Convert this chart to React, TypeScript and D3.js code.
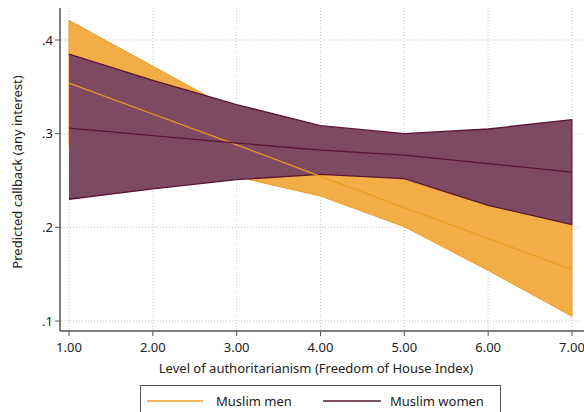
import React from "react";
import * as d3 from "d3";

const xValues = [1, 2, 3, 4, 5, 6, 7];
const menMean = [0.354, 0.321, 0.288, 0.2545, 0.221, 0.188, 0.155];
const menLower = [0.287, 0.271, 0.254, 0.2334, 0.2007, 0.154, 0.105];
const menUpper = [0.421, 0.372, 0.323, 0.2756, 0.2505, 0.2235, 0.204];
const womenMean = [0.306, 0.298, 0.29, 0.2825, 0.277, 0.268, 0.259];
const womenLower = [0.23, 0.241, 0.251, 0.2566, 0.252, 0.2235, 0.203];
const womenUpper = [0.385, 0.357, 0.331, 0.3085, 0.3, 0.305, 0.315];
const yTicks = [0.1, 0.2, 0.3, 0.4];
const yTickLabels = [".1", ".2", ".3", ".4"];
const xTickLabels = ["1.00", "2.00", "3.00", "4.00", "5.00", "6.00", "7.00"];
const seriesNames = ["Muslim men", "Muslim women"];

const W = 584;
const H = 412;
const FONT = "'Noto Sans', 'Open Sans', sans-serif";
const ORANGE_FILL = "#F2AD46";
const ORANGE_LINE = "#EE9B22";
const PURPLE_FILL = "#7D4A62";
const PURPLE_LINE = "#5A1535";
const AXIS = "#555555";
const GRID = "#cfc4c4";

export default function App() {
  const x = d3.scaleLinear().domain([1, 7]).range([69, 572]);
  const y = d3.scaleLinear().domain([0.1, 0.4]).range([321, 40]);
  const left = 60;
  const bottom = 331;
  const top = 8;

  const idx = xValues.map((_, i) => i);
  const area = (lo: number[], hi: number[]) =>
    d3
      .area<number>()
      .x((i) => x(xValues[i]))
      .y0((i) => y(lo[i]))
      .y1((i) => y(hi[i]))(idx) || "";
  const line = (v: number[]) =>
    d3
      .line<number>()
      .x((i) => x(xValues[i]))
      .y((i) => y(v[i]))(idx) || "";

  return (
    <svg
      width={W}
      height={H}
      style={{ position: "absolute", left: 0, top: 0, background: "#fff" }}
      fontFamily={FONT}
    >
      {/* gridlines */}
      {xValues.map((v, i) => (
        <line
          key={"gx" + i}
          x1={x(v)}
          x2={x(v)}
          y1={top}
          y2={bottom - 1}
          stroke={GRID}
          strokeWidth={1}
          strokeDasharray="1,2"
        />
      ))}
      {yTicks.map((v, i) => (
        <line
          key={"gy" + i}
          x1={left + 1}
          x2={581}
          y1={y(v)}
          y2={y(v)}
          stroke={GRID}
          strokeWidth={1}
          strokeDasharray="1,2"
        />
      ))}

      {/* bands */}
      <path
        d={area(menLower, menUpper)}
        fill={ORANGE_FILL}
        stroke={ORANGE_LINE}
        strokeWidth={1}
      />
      <path
        d={area(womenLower, womenUpper)}
        fill={PURPLE_FILL}
        stroke="none"
      />
      <path d={line(womenUpper)} fill="none" stroke={PURPLE_LINE} strokeWidth={1.3} />
      <path d={line(womenLower)} fill="none" stroke={PURPLE_LINE} strokeWidth={1.3} />
      <line
        x1={x(7)}
        x2={x(7)}
        y1={y(womenLower[6])}
        y2={y(womenUpper[6])}
        stroke={PURPLE_LINE}
        strokeWidth={1}
      />
      <path d={line(menMean)} fill="none" stroke={ORANGE_LINE} strokeWidth={1.3} />
      <path d={line(womenMean)} fill="none" stroke={PURPLE_LINE} strokeWidth={1.3} />

      {/* axes */}
      <line x1={left} x2={left} y1={top} y2={bottom} stroke={AXIS} strokeWidth={1.5} />
      <line x1={left} x2={584} y1={bottom} y2={bottom} stroke={AXIS} strokeWidth={1.5} />
      {yTicks.map((v, i) => (
        <g key={"yt" + i}>
          <line x1={left - 5} x2={left} y1={y(v)} y2={y(v)} stroke={AXIS} strokeWidth={1} />
          <text
            x={left - 7}
            y={y(v)}
            dy="0.35em"
            textAnchor="end"
            fontSize={13}
            fill="#222"
          >
            {yTickLabels[i]}
          </text>
        </g>
      ))}
      {xValues.map((v, i) => (
        <g key={"xt" + i}>
          <line x1={x(v)} x2={x(v)} y1={bottom} y2={bottom + 5} stroke={AXIS} strokeWidth={1} />
          <text
            x={x(v)}
            y={bottom + 21}
            textAnchor="middle"
            fontSize={13}
            fill="#222"
          >
            {xTickLabels[i]}
          </text>
        </g>
      ))}
      <text
        x={316}
        y={373}
        textAnchor="middle"
        fontSize={13}
        fill="#222"
      >
        Level of authoritarianism (Freedom of House Index)
      </text>
      <text
        transform={`translate(22,172) rotate(-90)`}
        textAnchor="middle"
        fontSize={13}
        fill="#222"
      >
        Predicted callback (any interest)
      </text>

      {/* legend */}
      <rect x={140.5} y={385.5} width={360} height={40} fill="#fff" stroke={AXIS} strokeWidth={1} />
      <line x1={147} x2={203} y1={401} y2={401} stroke={ORANGE_LINE} strokeWidth={1.3} />
      <text x={216} y={401} dy="0.35em" fontSize={13} fill="#222">
        {seriesNames[0]}
      </text>
      <line x1={323} x2={381} y1={401} y2={401} stroke={PURPLE_LINE} strokeWidth={1.3} />
      <text x={390} y={401} dy="0.35em" fontSize={13} fill="#222">
        {seriesNames[1]}
      </text>
    </svg>
  );
}
